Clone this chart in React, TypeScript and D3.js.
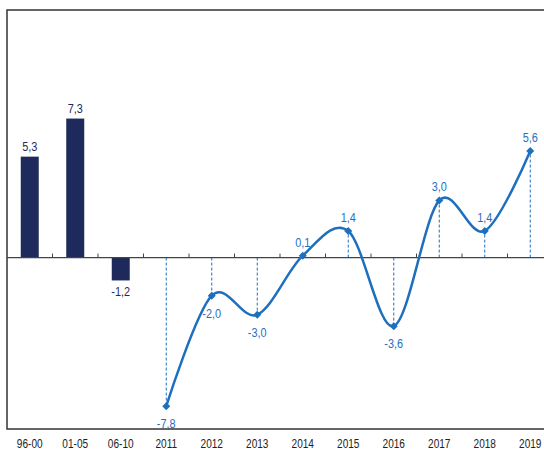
import React from "react";
import * as d3 from "d3";

const categories = ["96-00", "01-05", "06-10", "2011", "2012", "2013", "2014", "2015", "2016", "2017", "2018", "2019"];
const barCategories = ["96-00", "01-05", "06-10"];
const barValues = [5.3, 7.3, -1.2];
const lineCategories = ["2011", "2012", "2013", "2014", "2015", "2016", "2017", "2018", "2019"];
const lineValues = [-7.8, -2.0, -3.0, 0.1, 1.4, -3.6, 3.0, 1.4, 5.6];

const W = 544;
const H = 449;
const FONT = "'Liberation Sans', Arial, sans-serif";
const NAVY = "#1f2a5c";
const BLUE = "#1f6fbf";

const fmt = (v: number) => v.toFixed(1).replace(".", ",");

function Txt({ x, y, size, fill, children }: { x: number; y: number; size: number; fill: string; children: React.ReactNode }) {
  return (
    <text transform={`translate(${x},${y}) scale(0.84,1)`} textAnchor="middle" fontSize={size} fill={fill}>
      {children}
    </text>
  );
}

export default function App() {
  const left = 7;
  const top = 10;
  const bottom = 429;
  const x = d3.scaleBand<string>().domain(categories).range([left, left + 12 * 45.5]).paddingInner(0).paddingOuter(0);
  const y = d3.scaleLinear().domain([-9, 13]).range([bottom, top]);
  const bw = 18;
  const cx = (c: string) => (x(c) as number) + x.bandwidth() / 2;
  const y0 = y(0);

  const pts: [number, number][] = lineCategories.map((c, i) => [cx(c), y(lineValues[i])]);
  const line = d3.line().curve(d3.curveCardinal.tension(0))(pts) || "";

  const below = [true, true, true, false, false, true, false, false, false];

  return (
    <svg width={W} height={H} style={{ position: "absolute", left: 0, top: 0, background: "#fff" }} fontFamily={FONT}>
      <rect x={left} y={top} width={W + 20} height={bottom - top} fill="none" stroke="#333" strokeWidth={1.5} />
      {barCategories.map((c, i) => {
        const v = barValues[i];
        const yy = Math.min(y(v), y0);
        const h = Math.abs(y(v) - y0);
        return (
          <g key={c}>
            <rect x={cx(c) - bw / 2} y={yy} width={bw} height={h} fill={NAVY} />
            <Txt x={cx(c)} y={v >= 0 ? y(v) - 6 : y(v) + 16} size={13} fill={NAVY}>{fmt(v)}</Txt>
          </g>
        );
      })}
      {lineCategories.map((c, i) => (
        <line key={"d" + c} x1={cx(c)} x2={cx(c)} y1={y0} y2={y(lineValues[i])} stroke={BLUE} strokeWidth={1} strokeDasharray="3,2" />
      ))}
      <line x1={left} x2={W} y1={y0} y2={y0} stroke="#444" strokeWidth={1.2} />
      {categories.slice(1).map((c) => (
        <line key={"t" + c} x1={x(c) as number} x2={x(c) as number} y1={y0} y2={y0 - 4} stroke="#444" strokeWidth={1} />
      ))}
      <path d={line} fill="none" stroke={BLUE} strokeWidth={2.5} />
      {pts.map(([px, py], i) => (
        <path key={"m" + i} d={`M${px},${py - 4}L${px + 4},${py}L${px},${py + 4}L${px - 4},${py}Z`} fill={BLUE} />
      ))}
      {lineCategories.map((c, i) => (
        <Txt key={"l" + c} x={cx(c)} y={below[i] ? y(lineValues[i]) + 22 : y(lineValues[i]) - 9} size={13} fill={BLUE}>{fmt(lineValues[i])}</Txt>
      ))}
      {categories.map((c) => (
        <Txt key={"x" + c} x={cx(c)} y={448} size={12} fill="#222">{c}</Txt>
      ))}
    </svg>
  );
}
